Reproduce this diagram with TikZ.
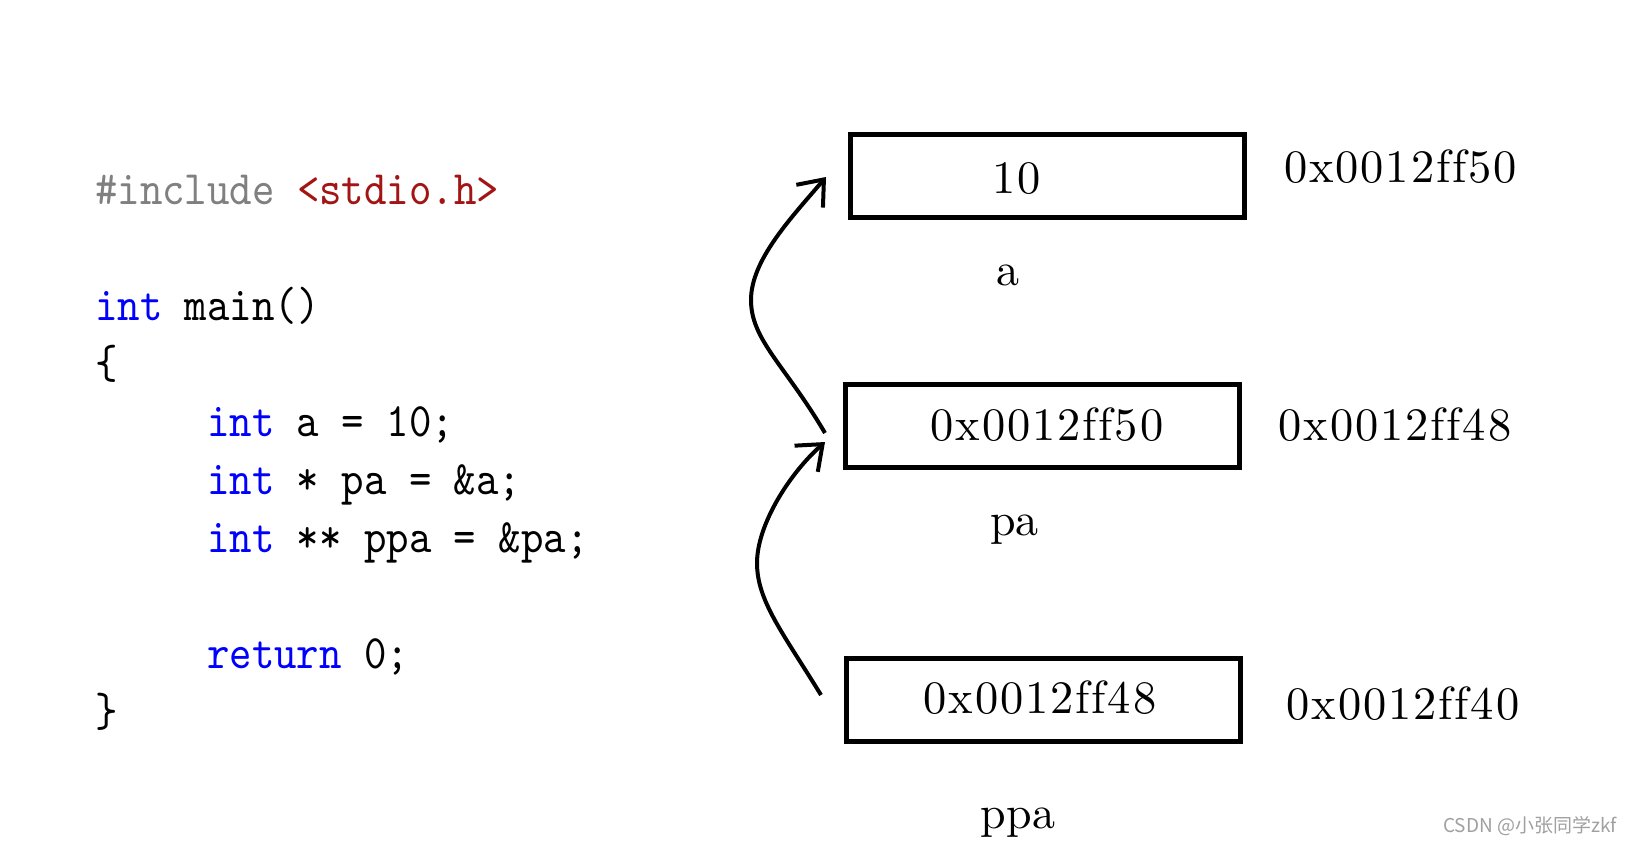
\documentclass[tikz,border=0pt]{standalone}
\usepackage{fontspec}
\usetikzlibrary{arrows.meta}
\newfontfamily\codefont{lmmono10-regular}[Extension=.otf, FakeStretch=0.89]
\newfontfamily\valfont{lmroman10-regular}[Extension=.otf, LetterSpace=4, Ligatures=NoCommon]
\newfontfamily\labfont{lmroman10-regular}[Extension=.otf]
\newfontfamily\cjkfont{Noto Sans CJK SC}
\definecolor{kwblue}{HTML}{0000FF}
\definecolor{ppgray}{HTML}{808080}
\definecolor{strred}{HTML}{A31515}
\definecolor{wmgray}{HTML}{A0A0A0}
\newcommand\ffpair{f\kern2pt f}
\tikzset{
  code/.style={anchor=base west, inner sep=0pt, font=\codefont\fontsize{48}{58}\selectfont},
  val/.style={anchor=base, inner sep=0pt, font=\valfont\fontsize{46.5}{56}\selectfont},
  lab/.style={anchor=base, inner sep=0pt, font=\labfont\fontsize{46}{56}\selectfont},
  memcell/.style={draw, line width=5pt, minimum width=394pt, minimum height=83pt, inner sep=0pt},
  ptr/.style={line width=4pt, -{Straight Barb[length=22pt,width=35pt]}},
}
\begin{document}
\begin{tikzpicture}[x=1pt,y=-1pt]
\fill[white] (0,0) rectangle (1633,847);
\useasboundingbox (0,0) rectangle (1633,847);
% code
\node[code, text=ppgray] (l1) at (95,204) {\#include {\color{strred}<stdio.h>}};
\node[code] (l2) at (95,320) {{\color{kwblue}int} main()};
\node[code] (l3) at (95,378) {\{};
\node[code] (l4) at (207,436) {{\color{kwblue}int} a = 10;};
\node[code] (l5) at (207,494) {{\color{kwblue}int} * pa = \&a;};
\node[code] (l6) at (207,552) {{\color{kwblue}int} ** ppa = \&pa;};
\node[code] (l7) at (207,668) {{\color{kwblue}return} 0;};
\node[code] (l8) at (95,726) {\}};
% memory cells
\node[memcell] (b1) at (1047.5,176) {};
\node[memcell] (b2) at (1042.5,425.5) {};
\node[memcell] (b3) at (1043.5,699.5) {};
\node[val] (v1) at (1016.5,193) {10};
\node[val] (v2) at (1047,440) {0x0012\ffpair50};
\node[val] (v3) at (1040,713) {0x0012\ffpair48};
% addresses
\node[val] (r1) at (1400.5,182) {0x0012\ffpair50};
\node[val] (r2) at (1395,440) {0x0012\ffpair48};
\node[val] (r3) at (1403,719) {0x0012\ffpair40};
% names
\node[lab] (n1) at (1008,285) {a};
\node[lab] (n2) at (1014.5,535) {pa};
\node[lab] (n3) at (1018,828) {ppa};
% arrows
\coordinate (s1) at ([shift={(-18,7.5)}]b2.west);
\coordinate (m1) at (751,300);
\coordinate (t1) at ([shift={(-22,1)}]b1.west);
\coordinate (s2) at ([shift={(-23,-4.5)}]b3.west);
\coordinate (m2) at (757,563);
\coordinate (t2) at ([shift={(-18,16.5)}]b2.west);
\draw[ptr] (s1) .. controls +(-40,-68) and +(0,40) .. (m1) .. controls +(0,-40) and +(-35,41) .. (t1);
\draw[ptr] (s2) .. controls +(-38,-62) and +(0,38) .. (m2) .. controls +(0,-38) and +(-36,32) .. (t2);
% watermark
\node[anchor=base west, inner sep=0pt, text=wmgray, font=\cjkfont\fontsize{19}{21}\selectfont] (wm) at (1443,832) {CSDN @小张同学zkf};
\end{tikzpicture}
\end{document}
